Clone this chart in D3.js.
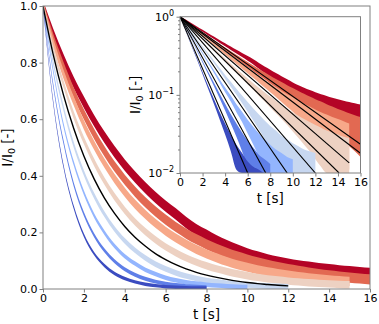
<!DOCTYPE html>
<html>
<head>
<meta charset="utf-8">
<script src="https://cdn.jsdelivr.net/npm/d3@7"></script>
<style>
  body { margin: 0; background: #fff; }
  svg { display: block; font-family: 'DejaVu Sans', sans-serif; }
</style>
</head>
<body>
<script>

// sample times [s]
let times = [0,0.5,1,1.5,2,2.5,3,3.5,4,4.5,5,5.5,6,6.5,7,7.5,8,8.5,9,9.5,10,10.5,11,11.5,12,12.5,13,13.5,14,14.5,15,15.5,16];

let cDarkBlue  = [1,0.66,0.435,0.29,0.19,0.125,0.083,0.055,0.037,0.025,0.017,0.012,0.008,0.006,0.005,0.004,0.004];
let cBlue      = [1,0.72,0.52,0.37,0.265,0.19,0.137,0.098,0.07,0.05,0.036,0.026,0.019,0.014,0.01,0.008,0.006];
let cLightBlue = [1,0.77,0.58,0.445,0.34,0.26,0.2,0.152,0.116,0.09,0.068,0.053,0.04,0.031,0.024,0.019,0.015,0.012,0.01,0.008,0.007];
let cPaleBlue  = [1,0.8,0.64,0.51,0.41,0.33,0.265,0.212,0.17,0.137,0.11,0.088,0.071,0.057,0.046,0.037,0.03,0.025,0.02,0.017,0.014,0.012,0.01,0.009,0.008];
let cPalePeach = [1,0.85,0.725,0.615,0.525,0.448,0.382,0.326,0.278,0.237,0.203,0.174,0.149,0.128,0.11,0.095,0.082,0.071,0.062,0.054,0.047,0.041,0.036,0.032,0.028,0.025,0.022,0.02,0.018,0.016,0.015];
let cPeach     = [1,0.87,0.76,0.665,0.58,0.508,0.445,0.39,0.342,0.3,0.264,0.232,0.204,0.18,0.159,0.14,0.124,0.11,0.097,0.086,0.077,0.068,0.061,0.055,0.049,0.044,0.04,0.036,0.033,0.03,0.027];
let cOrange    = [1,0.885,0.785,0.695,0.617,0.548,0.487,0.433,0.386,0.344,0.307,0.274,0.245,0.219,0.196,0.176,0.158,0.142,0.128,0.115,0.104,0.094,0.085,0.077,0.07,0.064,0.058,0.053,0.048,0.044,0.04,0.037,0.034];
let cDarkRed   = [1,0.9,0.81,0.73,0.66,0.595,0.537,0.485,0.438,0.396,0.358,0.324,0.293,0.265,0.235,0.21,0.19,0.17,0.153,0.138,0.124,0.113,0.103,0.095,0.088,0.082,0.077,0.072,0.068,0.064,0.061,0.058,0.055];

// half width of the noise band of each measurement
let noiseHalf = [0.006,0.007,0.008,0.01,0.013,0.016,0.018,0.02];

// fitted curve shown on the linear plot (0 - 12 s)
let fitMain = [1,0.828,0.686,0.568,0.47,0.389,0.322,0.267,0.221,0.183,0.152,0.125,0.104,0.086,0.071,0.059,0.049,0.041,0.034,0.028,0.023,0.019,0.016,0.013,0.011];

// fitted lines on the log inset: where each one stops
let fitEndT = [6.0,7.6,9.5,12.0,14.1,15,16,16];
let fitEndV = [0.01,0.01,0.01,0.01,0.01,0.0135,0.0179,0.0233];

let xTicks = [0,2,4,6,8,10,12,14,16];
let yTicks = [0,0.2,0.4,0.6,0.8,1.0];
let insetYTicks = [1,0.1,0.01];
let insetExp = ['0','\u22121','\u22122'];

let colors = ['#3b4cc0','#5f7fe8','#93b5fe','#c7d7f0','#edd1c2','#f7a889','#e26952','#b40426'];
let curves = [cDarkBlue,cBlue,cLightBlue,cPaleBlue,cPalePeach,cPeach,cOrange,cDarkRed];

let W = 379, H = 324;
let tickCol = '#808080';

let svg = d3.select('body').append('svg').attr('width', W).attr('height', H);

let defs = svg.append('defs');

// main axes
let m = {l: 43, r: 370, t: 6, b: 289};
let x = d3.scaleLinear().domain([0,16]).range([m.l, m.r]);
let y = d3.scaleLinear().domain([0,1]).range([m.b, m.t]);

defs.append('clipPath').attr('id','clipMain')
  .append('rect').attr('x', m.l).attr('y', m.t).attr('width', m.r - m.l).attr('height', m.b - m.t);

let mainData = svg.append('g').attr('clip-path','url(#clipMain)');

function bandArea(xs, ys, w){
  return d3.area()
    .curve(d3.curveMonotoneX)
    .x((d,i) => xs(times[i]))
    .y0(d => ys(Math.max(d - w, 1e-4)))
    .y1(d => ys(d + w));
}

// red first so the blue ones sit on top
for (let i = curves.length - 1; i >= 0; i--){
  mainData.append('path')
    .attr('d', bandArea(x, y, noiseHalf[i])(curves[i]))
    .attr('fill', colors[i]);
}

mainData.append('path')
  .attr('d', d3.line().curve(d3.curveMonotoneX).x((d,i) => x(times[i])).y(d => y(d))(fitMain))
  .attr('fill','none')
  .attr('stroke','#000')
  .attr('stroke-width',1.4);

svg.append('g')
  .attr('transform','translate(0,' + m.b + ')')
  .call(d3.axisBottom(x).tickValues(xTicks).tickSize(3.5).tickPadding(2).tickFormat(d3.format('d')))
  .call(styleAxis);

svg.append('g')
  .attr('transform','translate(' + m.l + ',0)')
  .call(d3.axisLeft(y).tickValues(yTicks).tickSize(3.5).tickPadding(2).tickFormat(d3.format('.1f')))
  .call(styleAxis);

svg.append('rect')
  .attr('x', m.l).attr('y', m.t).attr('width', m.r - m.l).attr('height', m.b - m.t)
  .attr('fill','none').attr('stroke', tickCol).attr('stroke-width',1);

function styleAxis(g){
  g.select('.domain').remove();
  g.selectAll('line').attr('stroke', tickCol);
  g.selectAll('text').attr('fill','#000').style('font-size','11px').style('font-family',"'DejaVu Sans', sans-serif");
}

svg.append('text')
  .attr('x', (m.l + m.r)/2).attr('y', 319)
  .attr('text-anchor','middle')
  .style('font-size','13.5px')
  .text('t [s]');

function ylabel(cx, cy){
  let t = svg.append('text')
    .attr('transform','translate(' + cx + ',' + cy + ') rotate(-90)')
    .attr('text-anchor','middle')
    .style('font-size','13.5px');
  t.append('tspan').text('I/I');
  t.append('tspan').attr('dy', 3).style('font-size','9.5px').text('0');
  t.append('tspan').attr('dy', -3).text(' [-]');
}
ylabel(12, (m.t + m.b)/2);

// inset (log scale)
let n = {l: 180, r: 360.5, t: 16.7, b: 173};
let xi = d3.scaleLinear().domain([0,16]).range([n.l, n.r]);
let yi = d3.scaleLog().domain([0.01,1]).range([n.b, n.t]).clamp(true);

svg.append('rect')
  .attr('x', n.l).attr('y', n.t).attr('width', n.r - n.l).attr('height', n.b - n.t)
  .attr('fill','#fff');

defs.append('clipPath').attr('id','clipInset')
  .append('rect').attr('x', n.l).attr('y', n.t).attr('width', n.r - n.l).attr('height', n.b - n.t);

let insetData = svg.append('g').attr('clip-path','url(#clipInset)');

for (let i = curves.length - 1; i >= 0; i--){
  insetData.append('path')
    .attr('d', bandArea(xi, yi, noiseHalf[i])(curves[i]))
    .attr('fill', colors[i]);
}

fitEndT.forEach((te, i) => {
  insetData.append('path')
    .attr('d', d3.line().x(d => xi(d[0])).y(d => yi(d[1]))([[0,1],[te, fitEndV[i]]]))
    .attr('fill','none')
    .attr('stroke','#000')
    .attr('stroke-width',1.1);
});

svg.append('g')
  .attr('transform','translate(0,' + n.b + ')')
  .call(d3.axisBottom(xi).tickValues(xTicks).tickSize(3.5).tickPadding(2).tickFormat(d3.format('d')))
  .call(styleAxis);

let minor = [];
[0.01,0.1].forEach(dec => { for (let k = 2; k <= 9; k++) minor.push(dec * k); });

svg.append('g')
  .attr('transform','translate(' + n.l + ',0)')
  .call(d3.axisLeft(yi).tickValues(minor).tickSize(2).tickFormat(''))
  .call(styleAxis);

svg.append('g')
  .attr('transform','translate(' + n.l + ',0)')
  .call(d3.axisLeft(yi).tickValues(insetYTicks).tickSize(3.5).tickPadding(2).tickFormat(''))
  .call(styleAxis);

insetYTicks.forEach((v, i) => {
  let t = svg.append('text')
    .attr('x', n.l - 6).attr('y', yi(v) + 4)
    .attr('text-anchor','end')
    .style('font-size','11px');
  t.append('tspan').text('10');
  t.append('tspan').attr('dy', -5).style('font-size','8px').text(insetExp[i]);
});

svg.append('rect')
  .attr('x', n.l).attr('y', n.t).attr('width', n.r - n.l).attr('height', n.b - n.t)
  .attr('fill','none').attr('stroke', tickCol).attr('stroke-width',1);

svg.append('text')
  .attr('x', (n.l + n.r)/2).attr('y', 203)
  .attr('text-anchor','middle')
  .style('font-size','13.5px')
  .text('t [s]');

ylabel(140, (n.t + n.b)/2);

</script>
</body>
</html>
